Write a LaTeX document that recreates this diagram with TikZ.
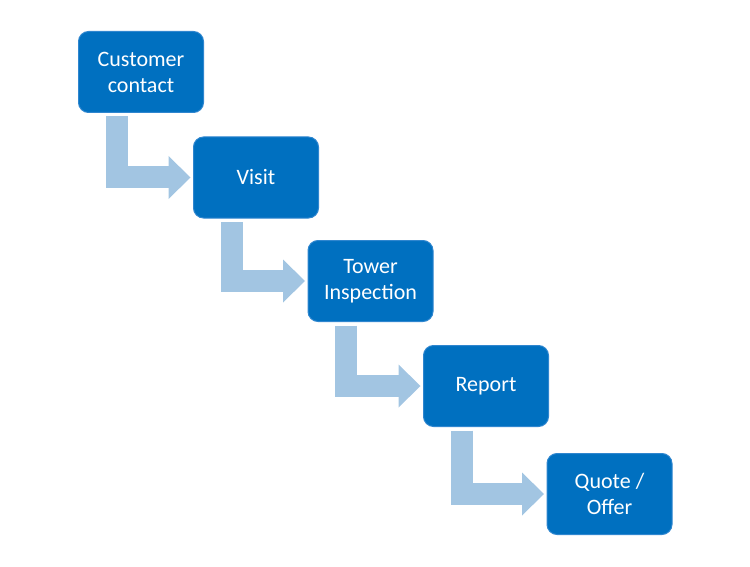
\documentclass[tikz,border=0pt]{standalone}
\usepackage{fontspec}
\setmainfont{Carlito}
\usetikzlibrary{arrows.meta, positioning, calc}
\definecolor{stBlue}{HTML}{0070C0}
\definecolor{stEdge}{HTML}{2F86CF}
\definecolor{stArrow}{HTML}{A2C5E2}
\tikzset{
  stepbox/.style={
    draw=stEdge, fill=stBlue, line width=1pt, rounded corners=10pt,
    minimum width=125pt, minimum height=81pt, inner sep=2pt, outer sep=0pt,
    text=white, align=center, font=\fontsize{22}{26}\selectfont
  },
  bent/.style={
    draw=stArrow, line width=22pt, line join=miter,
    -{Triangle[length=22pt, width=43pt, line width=0pt]}
  }
}

\begin{document}
\begin{tikzpicture}[x=1pt, y=-1pt]
  \useasboundingbox (0,0) rectangle (750,567);
  \node[stepbox] (cust)   at (141,72)    {Customer\\contact};
  \node[stepbox] (visit)  at (256,177.5) {Visit};
  \node[stepbox] (tower)  at (370.5,281) {Tower\\Inspection};
  \node[stepbox] (report) at (486,386)   {Report};
  \node[stepbox] (quote)  at (609.5,494) {Quote /\\Offer};
  % bent arrows from one step down to the next
  \foreach \s/\e in {cust/visit, visit/tower, tower/report, report/quote}{
    \draw[bent] ($(\s.south west)+(38,4)$) |- ($(\e.west)+(-3,0)$);
  }
\end{tikzpicture}
\end{document}
